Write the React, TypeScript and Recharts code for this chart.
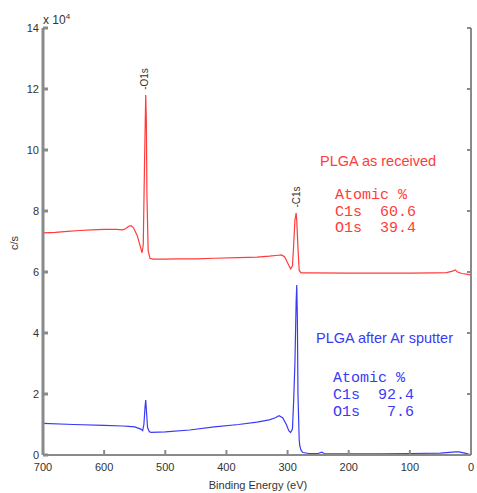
import React from 'react';
import { LineChart, Line, XAxis, YAxis } from 'recharts';

// binding energy (eV) and counts (x 10^4 c/s)
const receivedEnergy = [
  700, 680, 660, 640, 620, 600, 580, 570, 565, 560, 556, 552, 546, 541, 538, 536, 534, 532, 531, 530, 528,
  525, 520, 500, 480, 450, 420, 380, 350, 330, 315, 310, 305, 300, 295, 292, 290, 288, 286, 285, 283,
  281, 278, 260, 200, 150, 100, 60, 40, 30, 26, 22, 15, 5, 0,
];
const receivedCounts = [
  7.28, 7.3, 7.33, 7.36, 7.38, 7.4, 7.4, 7.38, 7.42, 7.5, 7.52, 7.45, 7.2, 6.85, 6.63, 6.9, 9.5, 11.8, 11.0, 8.5, 6.7,
  6.45, 6.42, 6.42, 6.43, 6.43, 6.45, 6.47, 6.49, 6.52, 6.55, 6.56, 6.5, 6.3, 6.1, 6.2, 6.9, 7.7, 7.93, 7.7, 6.8,
  6.05, 5.97, 5.97, 5.96, 5.96, 5.96, 5.97, 5.98, 6.03, 6.07, 6.0, 5.95, 5.92, 5.9,
];

const sputterEnergy = [
  700, 650, 600, 570, 560, 550, 540, 537, 535, 533, 532, 531, 529, 526, 523, 500, 460, 420, 380, 350,
  330, 320, 314, 308, 302, 298, 295, 292, 290, 288, 286, 285, 284, 283, 281, 280, 278, 275, 265, 250,
  244, 240, 200, 150, 100, 50, 25, 20, 10, 0,
];
const sputterCounts = [
  1.04, 1.0, 0.97, 0.95, 0.94, 0.92, 0.85, 0.8, 1.0, 1.6, 1.8, 1.5, 0.9, 0.76, 0.74, 0.76, 0.82, 0.92, 1.0, 1.08,
  1.15, 1.22, 1.29, 1.22, 1.0, 0.8, 0.74, 0.85, 1.8, 3.0, 5.0, 5.57, 4.5, 2.0, 0.5, 0.3, 0.16, 0.08, 0.05, 0.05,
  0.09, 0.05, 0.04, 0.04, 0.05, 0.06, 0.1, 0.1, 0.06, 0.0,
];

const xTicks = [0, 100, 200, 300, 400, 500, 600, 700];
const yTicks = [0, 2, 4, 6, 8, 10, 12, 14];

const received = receivedEnergy.map((e, i) => ({ energy: e, counts: receivedCounts[i] }));
const sputter = sputterEnergy.map((e, i) => ({ energy: e, counts: sputterCounts[i] }));

const axisColor = '#8a8a8a';
const tickFont = { fontSize: 11, fill: '#333', fontFamily: 'Liberation Sans, Arial, sans-serif' };
const red = '#ff3b3b';
const blue = '#3a3af5';
const sans = 'Liberation Sans, Arial, sans-serif';
const mono = '"Liberation Mono", "Courier New", monospace';

const noTick = () => <g />;

function Txt(props: { x: number; y: number; color?: string; font?: string; size?: number; children: React.ReactNode; rotate?: boolean }) {
  const { x, y, color = '#333', font = sans, size = 11, children, rotate } = props;
  return (
    <div
      style={{
        position: 'absolute',
        left: x,
        top: y,
        color,
        fontFamily: font,
        fontSize: size,
        lineHeight: 1,
        whiteSpace: 'pre',
        transform: rotate ? 'translate(-50%, -50%) rotate(-90deg)' : 'translateY(-50%)',
      }}
    >
      {children}
    </div>
  );
}

export default function App() {
  return (
    <div style={{ position: 'absolute', left: 0, top: 0, width: 477, height: 493, background: '#fff' }}>
      <LineChart width={477} height={493} margin={{ top: 28, right: 5, bottom: 0, left: 10 }}>
        <XAxis
          xAxisId="bottom"
          dataKey="energy"
          type="number"
          domain={[0, 700]}
          reversed
          ticks={xTicks}
          allowDataOverflow
          height={38}
          stroke={axisColor}
          strokeWidth={2}
          tickSize={-5}
          tickMargin={13}
          tick={tickFont}
        />
        <XAxis
          xAxisId="top"
          orientation="top"
          dataKey="energy"
          type="number"
          domain={[0, 700]}
          reversed
          ticks={xTicks}
          allowDataOverflow
          height={0}
          stroke={axisColor}
          strokeWidth={2}
          tickSize={-4}
          tick={noTick}
        />
        <YAxis
          yAxisId="left"
          type="number"
          domain={[0, 14]}
          ticks={yTicks}
          allowDataOverflow
          width={33}
          stroke={axisColor}
          strokeWidth={3}
          tickSize={-5}
          tickMargin={9}
          tick={tickFont}
        />
        <YAxis
          yAxisId="right"
          orientation="right"
          type="number"
          domain={[0, 14]}
          ticks={yTicks}
          allowDataOverflow
          width={1}
          stroke={axisColor}
          strokeWidth={2}
          tickSize={-4}
          tick={noTick}
        />
        {/* invisible series so the top/right box axes get drawn */}
        <Line
          xAxisId="top"
          yAxisId="right"
          data={received}
          dataKey="counts"
          stroke="none"
          dot={false}
          activeDot={false}
          isAnimationActive={false}
        />
        <Line
          xAxisId="bottom"
          yAxisId="left"
          data={received}
          dataKey="counts"
          type="linear"
          stroke={red}
          strokeWidth={1.2}
          dot={false}
          isAnimationActive={false}
        />
        <Line
          xAxisId="bottom"
          yAxisId="left"
          data={sputter}
          dataKey="counts"
          type="linear"
          stroke={blue}
          strokeWidth={1.2}
          dot={false}
          isAnimationActive={false}
        />
      </LineChart>

      <Txt x={43} y={19} size={12}>
        x 10<sup style={{ fontSize: 8 }}>4</sup>
      </Txt>
      <Txt x={14} y={243} size={11} rotate>c/s</Txt>
      <Txt x={258} y={485} size={11} rotate={false}>
        <span style={{ display: 'inline-block', transform: 'translateX(-50%)' }}>Binding Energy (eV)</span>
      </Txt>

      <Txt x={145} y={79} size={10} rotate>-O1s</Txt>
      <Txt x={297} y={197} size={10} rotate>-C1s</Txt>

      <Txt x={320} y={161} size={14.5} color={red}>PLGA as received</Txt>
      <Txt x={335} y={195} size={15} font={mono} color={red}>Atomic %</Txt>
      <Txt x={335} y={212} size={15} font={mono} color={red}>C1s  60.6</Txt>
      <Txt x={335} y={228} size={15} font={mono} color={red}>O1s  39.4</Txt>

      <Txt x={316} y={338} size={14.5} color={blue}>PLGA after Ar sputter</Txt>
      <Txt x={333} y={378} size={15} font={mono} color={blue}>Atomic %</Txt>
      <Txt x={333} y={395} size={15} font={mono} color={blue}>C1s  92.4</Txt>
      <Txt x={333} y={412} size={15} font={mono} color={blue}>O1s   7.6</Txt>
    </div>
  );
}
